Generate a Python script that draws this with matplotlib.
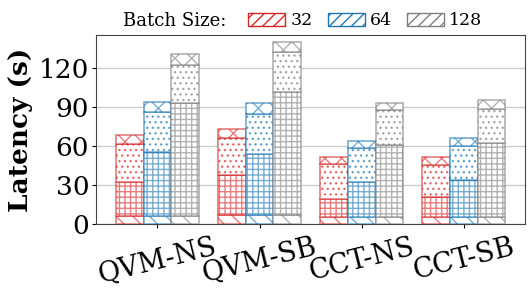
import numpy as np
import matplotlib
matplotlib.use("Agg")
from matplotlib import pyplot as plt
from matplotlib.patches import Patch

plt.rcParams["font.family"] = ["DejaVu Serif"]

configs = ["QVM-NS", "QVM-SB", "CCT-NS", "CCT-SB"]
batch_sizes = ["32", "64", "128"]
colors = ["#d62728", "#1f77b4", "#7f7f7f"]

# seconds per phase, rows = batch size (32, 64, 128), cols = config
phase_a = np.array([[6.0, 6.5, 5.0, 5.0],
                    [6.0, 6.5, 5.0, 5.0],
                    [6.0, 7.0, 5.0, 5.0]])
phase_b = np.array([[26.5, 31.0, 14.0, 15.5],
                    [49.5, 47.5, 27.0, 29.0],
                    [87.0, 94.5, 55.5, 57.5]])
phase_c = np.array([[28.5, 28.5, 27.0, 25.0],
                    [30.5, 30.5, 26.0, 26.0],
                    [29.0, 30.5, 27.0, 26.0]])
phase_d = np.array([[7.0, 7.0, 5.5, 6.0],
                    [7.5, 8.5, 5.5, 6.0],
                    [8.5, 8.0, 5.5, 6.5]])

phases = [phase_a, phase_b, phase_c, phase_d]
hatches = ["\\\\", "+++", "...", "xx"]


def plot_latency():
    fig = plt.figure(figsize=(5.31, 2.95), dpi=100)
    ax = fig.add_axes([0.181, 0.241, 0.808, 0.64])

    x = np.arange(len(configs))
    width = 0.27
    for i, bs in enumerate(batch_sizes):
        pos = x + (i - 1) * width
        bottom = np.zeros(len(configs))
        edge = matplotlib.colors.to_rgba(colors[i], 0.6)
        for vals, h in zip(phases, hatches):
            ax.bar(pos, vals[i], width, bottom=bottom, facecolor="white",
                   edgecolor=edge, hatch=h, linewidth=1.2, zorder=3)
            bottom = bottom + vals[i]

    ax.set_xlim(-0.6, 3.6)
    ax.set_ylim(0, 145)
    ax.set_yticks([0, 30, 60, 90, 120])
    ax.set_xticks(x)
    ax.set_xticklabels(configs, rotation=14, ha="center")
    ax.tick_params(axis="y", labelsize=19, length=3, pad=2)
    ax.tick_params(axis="x", labelsize=19.5, length=3, pad=4)
    ax.set_ylabel("Latency (s)", fontsize=19, fontweight="bold", labelpad=4)
    ax.yaxis.grid(True, color="#cccccc", linewidth=1, zorder=0)
    ax.set_axisbelow(True)
    for sp in ax.spines.values():
        sp.set_color("#444444")

    handles = [Patch(facecolor="white", edgecolor=c, hatch="///", linewidth=1)
               for c in colors]
    fig.text(0.231, 0.929, "Batch Size:", fontsize=13, va="center")
    fig.legend(handles, batch_sizes, loc="center left",
               bbox_to_anchor=(0.445, 0.929), ncol=3, frameon=False,
               fontsize=12.5, handlelength=2.13, handleheight=0.75,
               handletextpad=0.3, columnspacing=0.86, borderpad=0.2)
    return fig


if __name__ == "__main__":
    fig = plot_latency()
    fig.savefig("out.png", dpi=100)
